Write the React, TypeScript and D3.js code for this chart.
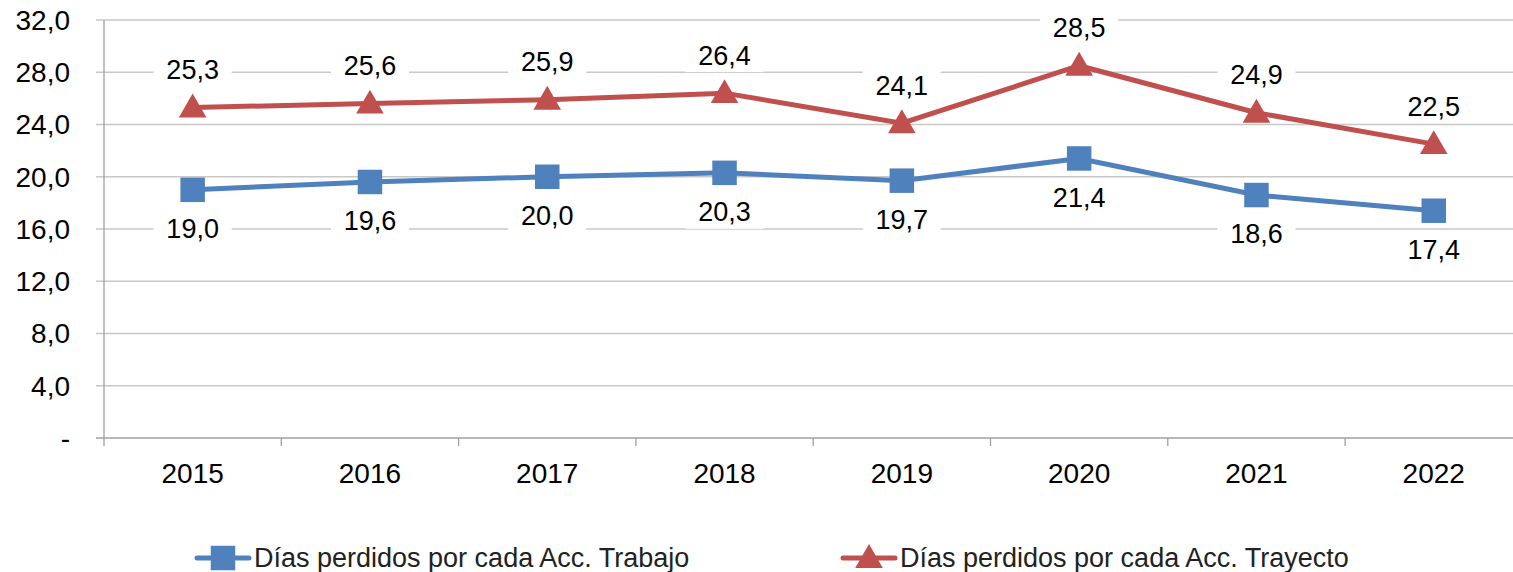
import { useEffect, useRef } from 'react'
import * as d3 from 'd3'

const years = ['2015', '2016', '2017', '2018', '2019', '2020', '2021', '2022']
const trabajo = [19.0, 19.6, 20.0, 20.3, 19.7, 21.4, 18.6, 17.4]
const trayecto = [25.3, 25.6, 25.9, 26.4, 24.1, 28.5, 24.9, 22.5]
const yTicks = [0, 4, 8, 12, 16, 20, 24, 28, 32]
const seriesNames = ['Días perdidos por cada Acc. Trabajo', 'Días perdidos por cada Acc. Trayecto']

const BLUE = '#4F81BD'
const RED = '#C0504D'
const FONT = 'Liberation Sans, Arial, sans-serif'

const fmt = (v: number) => v === 0 ? '-' : v.toFixed(1).replace('.', ',')

const App = () => {
  const svgRef = useRef<SVGSVGElement>(null)

  useEffect(() => {
    const width = 1513
    const height = 572
    const left = 104
    const bandW = 177.3

    const svg = d3.select(svgRef.current)
    svg.selectAll('*').remove()
    svg.attr('width', width).attr('height', height)

    const x = d3.scaleBand().domain(years).range([left, left + bandW * years.length])
    const y = d3.scaleLinear().domain([0, 32]).range([438, 20])
    const cx = (d: string) => (x(d) as number) + x.bandwidth() / 2

    // gridlines
    svg.append('g')
      .selectAll('line')
      .data(yTicks)
      .join('line')
      .attr('x1', left - 8)
      .attr('x2', width)
      .attr('y1', d => y(d))
      .attr('y2', d => y(d))
      .attr('stroke', d => d === 0 ? '#a0a0a0' : '#c8c8c8')
      .attr('stroke-width', 1.3)

    // y axis line
    svg.append('line')
      .attr('x1', left).attr('x2', left)
      .attr('y1', y(32)).attr('y2', y(0) + 8)
      .attr('stroke', '#a0a0a0').attr('stroke-width', 1.3)

    // category ticks
    svg.append('g')
      .selectAll('line')
      .data(years.slice(1))
      .join('line')
      .attr('x1', d => x(d) as number)
      .attr('x2', d => x(d) as number)
      .attr('y1', y(0))
      .attr('y2', y(0) + 8)
      .attr('stroke', '#a0a0a0').attr('stroke-width', 1.3)

    // y labels
    svg.append('g')
      .selectAll('text')
      .data(yTicks)
      .join('text')
      .attr('x', 70)
      .attr('y', d => y(d))
      .attr('dy', '0.35em')
      .attr('text-anchor', 'end')
      .style('font-family', FONT)
      .style('font-size', '28px')
      .text(d => fmt(d))

    // x labels
    svg.append('g')
      .selectAll('text')
      .data(years)
      .join('text')
      .attr('x', d => cx(d))
      .attr('y', 473)
      .attr('dy', '0.35em')
      .attr('text-anchor', 'middle')
      .style('font-family', FONT)
      .style('font-size', '28px')
      .text(d => d)

    const line = d3.line<number>()
      .x((_, i) => cx(years[i]))
      .y(d => y(d))

    const series = [
      { values: trabajo, color: BLUE, shape: d3.symbolSquare, size: 600, off: 39 },
      { values: trayecto, color: RED, shape: d3.symbolTriangle, size: 330, off: -38 },
    ]

    series.forEach(s => {
      svg.append('path')
        .datum(s.values)
        .attr('d', line)
        .attr('fill', 'none')
        .attr('stroke', s.color)
        .attr('stroke-width', 5)

      svg.append('g')
        .selectAll('path')
        .data(s.values)
        .join('path')
        .attr('transform', (d, i) => `translate(${cx(years[i])},${y(d) + (s.shape === d3.symbolTriangle ? 2 : 0)})`)
        .attr('d', d3.symbol().type(s.shape).size(s.size))
        .attr('fill', s.color)

      const lbl = svg.append('g')
        .selectAll('g')
        .data(s.values)
        .join('g')
        .attr('transform', (d, i) => `translate(${cx(years[i])},${y(d) + s.off})`)
      lbl.append('rect')
        .attr('x', -39).attr('y', -17).attr('width', 78).attr('height', 34)
        .attr('fill', 'white')
      lbl.append('text')
        .attr('dy', '0.35em')
        .attr('text-anchor', 'middle')
        .style('font-family', FONT)
        .style('font-size', '27px')
        .text(d => fmt(d))
    })

    // legend
    const legend = [
      { name: seriesNames[0], color: BLUE, shape: d3.symbolSquare, size: 600, x: 197 },
      { name: seriesNames[1], color: RED, shape: d3.symbolTriangle, size: 330, x: 843 },
    ]
    legend.forEach(l => {
      const g = svg.append('g').attr('transform', `translate(${l.x},558)`)
      g.append('line').attr('x1', 0).attr('x2', 52).attr('stroke', l.color).attr('stroke-width', 5).attr('stroke-linecap', 'round')
      g.append('path').attr('transform', `translate(26,${l.shape === d3.symbolTriangle ? 2 : 0})`)
        .attr('d', d3.symbol().type(l.shape).size(l.size)).attr('fill', l.color)
      g.append('text').attr('x', 57).attr('dy', '0.35em')
        .style('font-family', FONT).style('font-size', '27px').attr('fill', '#222')
        .text(l.name)
    })
  }, [])

  return (
    <div style={{ position: 'absolute', left: 0, top: 0 }}>
      <svg ref={svgRef} style={{ display: 'block' }}></svg>
    </div>
  )
}

export default App
